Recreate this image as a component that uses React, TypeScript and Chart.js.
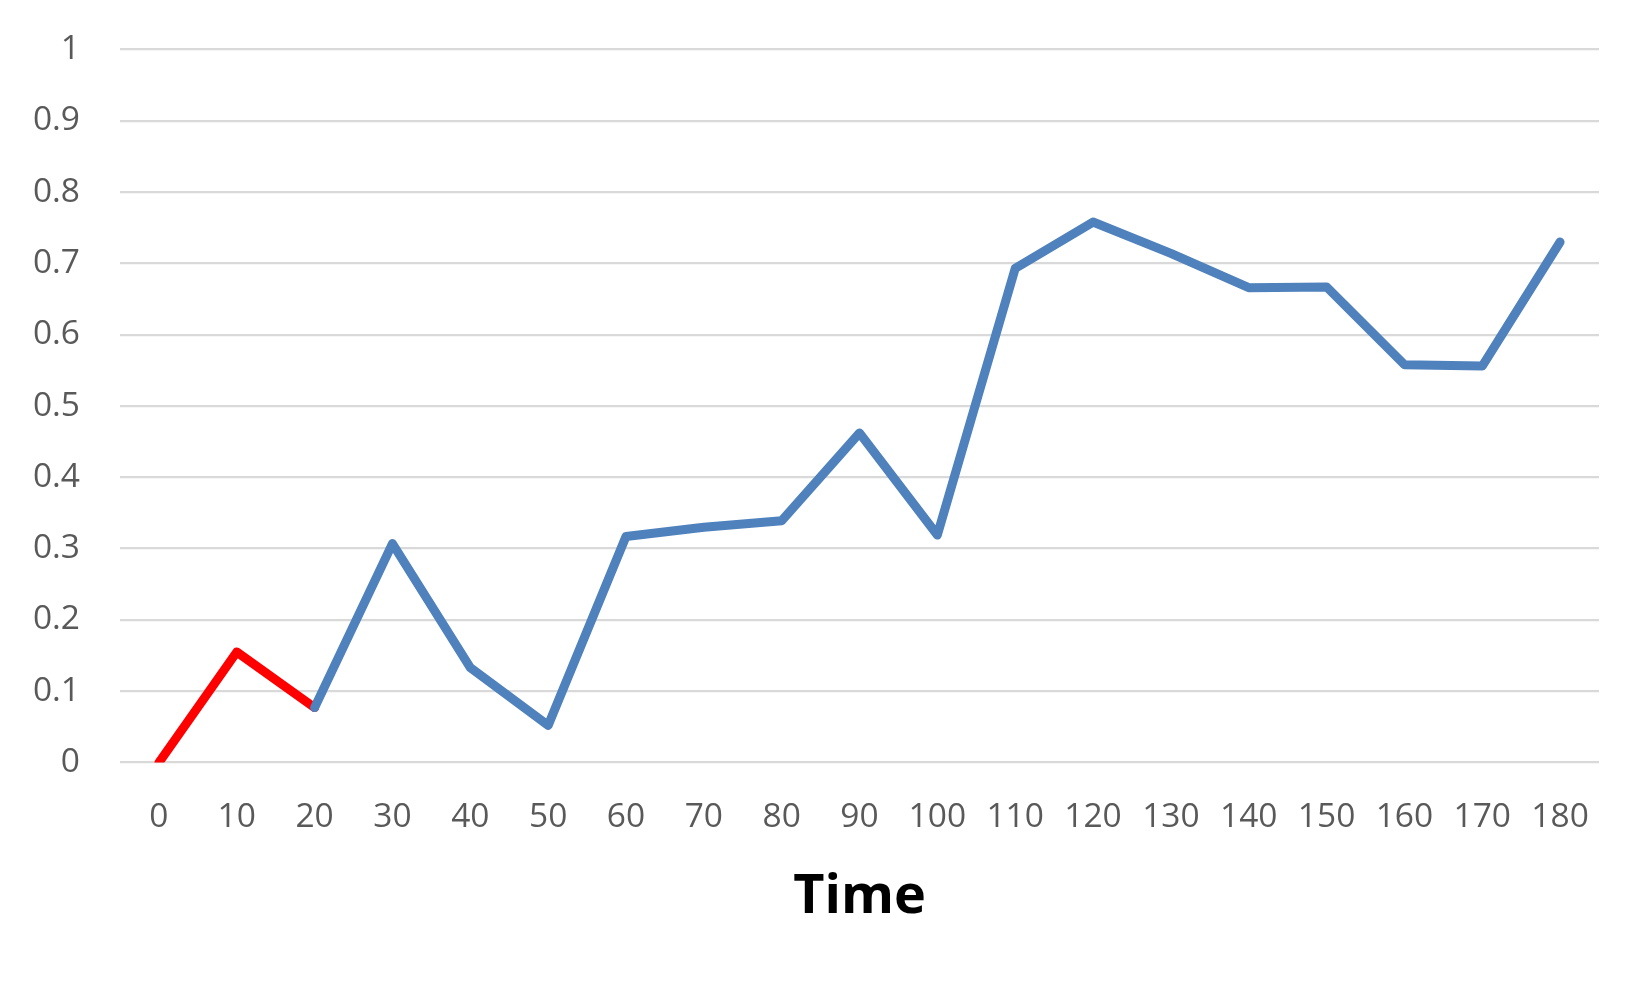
import React, { useEffect, useRef } from "react";
import { Chart, registerables } from "chart.js";

Chart.register(...registerables);

const timeLabels: string[] = ["0", "10", "20", "30", "40", "50", "60", "70", "80", "90", "100", "110", "120", "130", "140", "150", "160", "170", "180"];
const seriesValues: number[] = [0, 0.155, 0.077, 0.307, 0.133, 0.052, 0.317, 0.33, 0.339, 0.462, 0.319, 0.693, 0.758, 0.714, 0.666, 0.667, 0.558, 0.556, 0.73];
const redUntilIndex = 2;
const yTicks: number[] = [0, 0.1, 0.2, 0.3, 0.4, 0.5, 0.6, 0.7, 0.8, 0.9, 1];
const xTitle = "Time";

const FONT = "'Open Sans', 'Noto Sans', sans-serif";

export default function App() {
  const ref = useRef<HTMLCanvasElement | null>(null);
  useEffect(() => {
    if (!ref.current) return;
    const chart = new Chart(ref.current, {
      type: "line",
      data: {
        labels: timeLabels,
        datasets: [
          {
            data: seriesValues,
            borderColor: "#4F81BD",
            borderWidth: 9,
            borderCapStyle: "round",
            borderJoinStyle: "round",
            pointRadius: 0,
            tension: 0,
            fill: false,
            segment: {
              borderColor: (ctx: any) => (ctx.p0DataIndex < redUntilIndex ? "#FF0000" : "#4F81BD"),
            },
          },
        ],
      },
      options: {
        animation: false,
        responsive: false,
        maintainAspectRatio: false,
        layout: { padding: { left: 0, right: 50, top: 49.5, bottom: 0 } },
        plugins: { legend: { display: false }, tooltip: { enabled: false }, title: { display: false } },
        scales: {
          x: {
            type: "category",
            offset: true,
            grid: { display: false, drawTicks: false },
            border: { display: false },
            ticks: { color: "#595959", font: { family: FONT, size: 33.5 }, padding: 35, maxRotation: 0, autoSkip: false },
            title: {
              display: true,
              text: xTitle,
              color: "#000000",
              font: { family: FONT, size: 54, weight: "bold" },
              padding: { top: 0, bottom: 60 },
            },
            afterFit: (scale: any) => {
              scale.height = 227.5;
            },
          },
          y: {
            min: 0,
            max: 1,
            afterBuildTicks: (scale: any) => {
              scale.ticks = yTicks.map((v) => ({ value: v }));
            },
            grid: { color: "#D9D9D9", lineWidth: 2.3, drawTicks: false },
            border: { display: false },
            ticks: {
              color: "#595959",
              font: { family: FONT, size: 33.5 },
              padding: 40,
              callback: (v: any) => String(Math.round(Number(v) * 10) / 10),
            },
            afterFit: (scale: any) => {
              scale.width = 120;
              scale.paddingTop = 0;
              scale.paddingBottom = 0;
            },
          },
        },
      },
    });
    return () => chart.destroy();
  }, []);
  return (
    <div style={{ position: "fixed", left: 0, top: 0, width: 1649, height: 990, background: "#fff" }}>
      <canvas ref={ref} width={1649} height={990} style={{ width: 1649, height: 990, display: "block" }} />
    </div>
  );
}
